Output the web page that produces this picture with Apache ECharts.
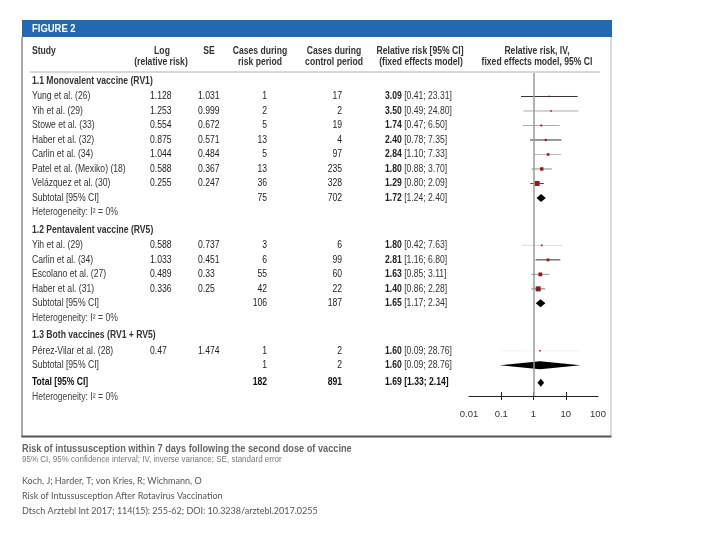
<!DOCTYPE html>
<html><head><meta charset="utf-8">
<script src="https://cdn.jsdelivr.net/npm/echarts@6/dist/echarts.min.js"></script>
<style>html,body{margin:0;padding:0;background:#fff}#c{width:720px;height:540px}</style>
</head><body><div id="c"></div>
<script>
// ---------- data ----------
const groupTitles = ['1.1 Monovalent vaccine (RV1)', '1.2 Pentavalent vaccine (RV5)', '1.3 Both vaccines (RV1 + RV5)'];

const studiesRV1 = ['Yung et al. (26)', 'Yih et al. (29)', 'Stowe et al. (33)', 'Haber et al. (32)', 'Carlin et al. (34)', 'Patel et al. (Mexiko) (18)', 'Velázquez et al. (30)'];
const logRV1 = ['1.128', '1.253', '0.554', '0.875', '1.044', '0.588', '0.255'];
const seRV1 = ['1.031', '0.999', '0.672', '0.571', '0.484', '0.367', '0.247'];
const riskRV1 = [1, 2, 5, 13, 5, 13, 36];
const ctrlRV1 = [17, 2, 19, 4, 97, 235, 328];
const rrRV1 = [3.09, 3.50, 1.74, 2.40, 2.84, 1.80, 1.29];
const loRV1 = [0.41, 0.49, 0.47, 0.78, 1.10, 0.88, 0.80];
const hiRV1 = [23.31, 24.80, 6.50, 7.35, 7.33, 3.70, 2.09];

const studiesRV5 = ['Yih et al. (29)', 'Carlin et al. (34)', 'Escolano et al. (27)', 'Haber et al. (31)'];
const logRV5 = ['0.588', '1.033', '0.489', '0.336'];
const seRV5 = ['0.737', '0.451', '0.33', '0.25'];
const riskRV5 = [3, 6, 55, 42];
const ctrlRV5 = [6, 99, 60, 22];
const rrRV5 = [1.80, 2.81, 1.63, 1.40];
const loRV5 = [0.42, 1.16, 0.85, 0.86];
const hiRV5 = [7.63, 6.80, 3.11, 2.28];

const studiesBoth = ['Pérez-Vilar et al. (28)'];
const logBoth = ['0.47'];
const seBoth = ['1.474'];
const riskBoth = [1];
const ctrlBoth = [2];
const rrBoth = [1.60];
const loBoth = [0.09];
const hiBoth = [28.76];

const subtotalRR = [1.72, 1.65, 1.60];
const subtotalLo = [1.24, 1.17, 0.09];
const subtotalHi = [2.40, 2.34, 28.76];
const subtotalRisk = [75, 106, 1];
const subtotalCtrl = [702, 187, 2];
const groupHeterogeneity = ['0%', '0%', null];

const totalRR = 1.69, totalLo = 1.33, totalHi = 2.14, totalRisk = 182, totalCtrl = 891, totalHeterogeneity = '0%';

const axisTicks = [0.01, 0.1, 1, 10, 100];
const crossTicks = [0.1, 1, 10];

// ---------- styles (not data) ----------
const ciColorsRV1 = ['#333', '#aaa', '#aaa', '#333', '#bbb', '#888', '#444'];
const ciColorsRV5 = ['#ddd', '#333', '#999', '#777'];
const ciColorsBoth = ['#f4f4f4'];

const FONT = "'Liberation Sans', Arial, sans-serif";
const SX = 0.86;

// ---------- build rows ----------
const groups = [
  {names: studiesRV1, log: logRV1, se: seRV1, risk: riskRV1, ctrl: ctrlRV1, rr: rrRV1, lo: loRV1, hi: hiRV1, ci: ciColorsRV1},
  {names: studiesRV5, log: logRV5, se: seRV5, risk: riskRV5, ctrl: ctrlRV5, rr: rrRV5, lo: loRV5, hi: hiRV5, ci: ciColorsRV5},
  {names: studiesBoth, log: logBoth, se: seBoth, risk: riskBoth, ctrl: ctrlBoth, rr: rrBoth, lo: loBoth, hi: hiBoth, ci: ciColorsBoth}
];
const rows = [];
let pos = 0;
groups.forEach((g, gi) => {
  rows.push({type: 'section', text: groupTitles[gi], pos}); pos += 1.07;
  g.names.forEach((n, i) => {
    rows.push({type: 'study', name: n, log: g.log[i], se: g.se[i], risk: g.risk[i], ctrl: g.ctrl[i], rr: g.rr[i], lo: g.lo[i], hi: g.hi[i], ci: g.ci[i], pos});
    pos += 1;
  });
  rows.push({type: 'subtotal', risk: subtotalRisk[gi], ctrl: subtotalCtrl[gi], rr: subtotalRR[gi], lo: subtotalLo[gi], hi: subtotalHi[gi], pos});
  pos += 1;
  if (groupHeterogeneity[gi] !== null) {
    rows.push({type: 'het', text: 'Heterogeneity: I² = ' + groupHeterogeneity[gi], pos});
    pos += 1.2;
  } else {
    pos += 0.2;
  }
});
rows.push({type: 'total', risk: totalRisk, ctrl: totalCtrl, rr: totalRR, lo: totalLo, hi: totalHi, pos}); pos += 1;
rows.push({type: 'het', text: 'Heterogeneity: I² = ' + totalHeterogeneity, pos});

const studyRows = rows.filter(r => r.type === 'study');
const diamondRows = rows.filter(r => r.type === 'subtotal' || r.type === 'total');
const f2 = v => v.toFixed(2);

const chart = echarts.init(document.getElementById('c'), null, {renderer: 'canvas'});

const option = {
  animation: false,
  backgroundColor: '#fff',
  grid: {left: 469, right: 122, top: 73, bottom: 144},
  xAxis: [{
    type: 'log', logBase: 10, min: 0.01, max: 100, position: 'bottom',
    axisLine: {onZero: false, lineStyle: {color: '#222', width: 1}},
    axisTick: {show: true, length: 4, lineStyle: {color: '#222'}, customValues: crossTicks},
    axisLabel: {color: '#333', fontFamily: FONT, fontSize: 9.5, margin: 13, customValues: axisTicks,
      formatter: v => String(+(+v).toPrecision(3))},
    splitLine: {show: false}
  }, {
    type: 'log', logBase: 10, min: 0.01, max: 100, position: 'bottom',
    axisLine: {show: false, onZero: false},
    axisTick: {show: true, inside: true, length: 4, lineStyle: {color: '#222'}, customValues: crossTicks},
    axisLabel: {show: false},
    splitLine: {show: false}
  }],
  yAxis: {type: 'value', inverse: true, min: -0.55, max: 21.73, show: false},
  series: [
    {
      type: 'custom', xAxisIndex: 0, clip: false, z: 2,
      data: studyRows.map(r => [r.lo, r.hi, r.pos]),
      renderItem: (params, api) => {
        const a = api.coord([api.value(0), api.value(2)]);
        const b = api.coord([api.value(1), api.value(2)]);
        return {type: 'line', shape: {x1: a[0], y1: a[1], x2: b[0], y2: b[1]},
          style: {stroke: studyRows[params.dataIndex].ci, lineWidth: 1}};
      }
    },
    {
      type: 'scatter', xAxisIndex: 0, z: 3,
      symbol: 'rect',
      data: studyRows.map(r => ({value: [r.rr, r.pos], symbolSize: Math.max(1.5, 1.25 / parseFloat(r.se))})),
      itemStyle: {color: '#8e1a24', opacity: 1},
      markLine: {
        silent: true, symbol: ['none', 'none'], label: {show: false},
        lineStyle: {color: '#9a9a9a', width: 1.5, type: 'solid'},
        data: [{xAxis: 1}]
      }
    },
    {
      type: 'custom', xAxisIndex: 0, clip: false, z: 4,
      data: diamondRows.map(r => [r.lo, r.rr, r.hi, r.pos]),
      renderItem: (params, api) => {
        const y = api.value(3);
        const l = api.coord([api.value(0), y]);
        const m = api.coord([api.value(1), y]);
        const h = api.coord([api.value(2), y]);
        const hh = 4;
        return {type: 'polygon', shape: {points: [[l[0], l[1]], [m[0], m[1] - hh], [h[0], h[1]], [m[0], m[1] + hh]]},
          style: {fill: '#000'}};
      }
    }
  ]
};
chart.setOption(option);

// ---------- table text, placed on the chart's row scale ----------
const g = [];
g.push({type: 'rect', shape: {x: 22, y: 20, width: 590, height: 17}, style: {fill: '#2368b0'}, z: 0});
g.push({type: 'line', shape: {x1: 611, y1: 37, x2: 611, y2: 436}, style: {stroke: '#b8b8b8', lineWidth: 1}});
g.push({type: 'line', shape: {x1: 22, y1: 37, x2: 22, y2: 437}, style: {stroke: '#555', lineWidth: 1}});
g.push({type: 'line', shape: {x1: 21.5, y1: 436.5, x2: 611.5, y2: 436.5}, style: {stroke: '#555', lineWidth: 2}});
g.push({type: 'line', shape: {x1: 30, y1: 72, x2: 600, y2: 72}, style: {stroke: '#b0b0b0', lineWidth: 1}});

function txt(x, y, s, align, opt) {
  opt = opt || {};
  const sx = opt.sx || (opt.family ? 1 : SX);
  g.push({type: 'text', x, y, z: 10, scaleX: sx, style: Object.assign({
    text: s, fill: opt.fill || '#333', font: (opt.weight || 'normal') + ' ' + (opt.size || 10) + 'px ' + (opt.family || FONT),
    textAlign: align, textVerticalAlign: 'middle'
  }, opt.rich ? {rich: opt.rich} : {})});
}
txt(32, 29, 'FIGURE 2', 'left', {weight: 'bold', fill: '#fff', size: 11});
// column headers
const H = {weight: 'bold', fill: '#333'};
txt(32, 51, 'Study', 'left', H);
txt(162, 51, 'Log', 'center', H); txt(161, 62, '(relative risk)', 'center', H);
txt(209, 51, 'SE', 'center', H);
txt(260, 51, 'Cases during', 'center', H); txt(260, 62, 'risk period', 'center', H);
txt(334, 51, 'Cases during', 'center', H); txt(334, 62, 'control period', 'center', H);
txt(420, 51, 'Relative risk [95% CI]', 'center', H); txt(421, 62, '(fixed effects model)', 'center', H);
txt(537, 51, 'Relative risk, IV,', 'center', H); txt(537, 62, 'fixed effects model, 95% CI', 'center', H);

const RICH = {a: {fontWeight: 'bold', fill: '#222', fontSize: 10, fontFamily: FONT}, b: {fontWeight: 'normal', fill: '#333', fontSize: 10, fontFamily: FONT}};
rows.forEach(r => {
  const y = chart.convertToPixel({yAxisIndex: 0}, r.pos);
  if (r.type === 'section') {
    txt(32, y, r.text, 'left', {weight: 'bold', fill: '#333'});
  } else if (r.type === 'het') {
    txt(32, y, r.text, 'left', {fill: '#444'});
  } else if (r.type === 'study' || r.type === 'subtotal') {
    txt(32, y, r.type === 'study' ? r.name : 'Subtotal [95% CI]', 'left', {fill: '#333'});
    if (r.type === 'study') {
      txt(150, y, r.log, 'left', {fill: '#222'});
      txt(198, y, r.se, 'left', {fill: '#222'});
    }
    txt(267, y, String(r.risk), 'right', {fill: '#222'});
    txt(342, y, String(r.ctrl), 'right', {fill: '#222'});
    txt(385, y, '{a|' + f2(r.rr) + '} {b|[' + f2(r.lo) + '; ' + f2(r.hi) + ']}', 'left', {rich: RICH});
  } else if (r.type === 'total') {
    txt(32, y, 'Total [95% CI]', 'left', {weight: 'bold', fill: '#111'});
    txt(267, y, String(r.risk), 'right', {weight: 'bold', fill: '#111'});
    txt(342, y, String(r.ctrl), 'right', {weight: 'bold', fill: '#111'});
    txt(385, y, f2(r.rr) + ' [' + f2(r.lo) + '; ' + f2(r.hi) + ']', 'left', {weight: 'bold', fill: '#111'});
  }
});
// captions
txt(22, 449, 'Risk of intussusception within 7 days following the second dose of vaccine', 'left', {weight: 'bold', fill: '#666', size: 10, sx: 0.92});
txt(22, 460, '95% CI, 95% confidence interval; IV, inverse variance; SE, standard error', 'left', {fill: '#777', size: 9, sx: 0.89});
const CIT = "Lato, 'Open Sans', sans-serif";
txt(22, 481, 'Koch, J; Harder, T; von Kries, R; Wichmann, O', 'left', {fill: '#555', size: 9, family: CIT});
txt(22, 496, 'Risk of Intussusception After Rotavirus Vaccination', 'left', {fill: '#555', size: 9, family: CIT});
txt(22, 511, 'Dtsch Arztebl Int 2017; 114(15): 255-62; DOI: 10.3238/arztebl.2017.0255', 'left', {fill: '#555', size: 9, family: CIT});

chart.setOption({graphic: g});
</script>
</body></html>
